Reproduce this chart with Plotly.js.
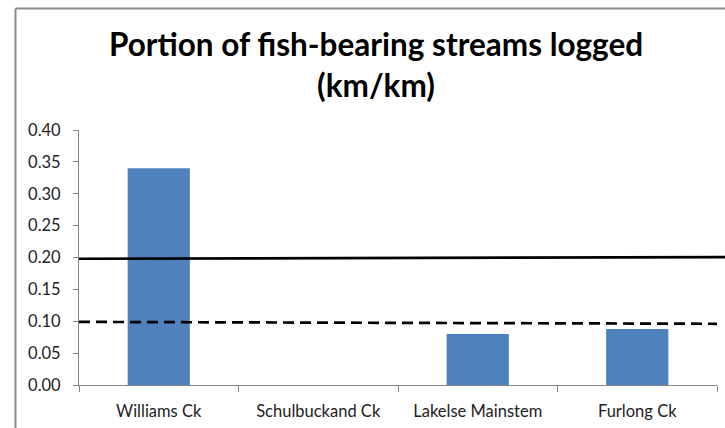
<!DOCTYPE html>
<html>
<head>
<meta charset="utf-8">
<script src="https://cdn.plot.ly/plotly-3.0.1.min.js"></script>
<style>html,body{margin:0;padding:0;background:#fff;}#chart{width:725px;height:428px;}</style>
</head>
<body>
<div id="chart"></div>
<script>
// Data
const categories = ["Williams Ck", "Schulbuckand Ck", "Lakelse Mainstem", "Furlong Ck"];
const values = [0.34, null, 0.08, 0.088];
const solidLine = [0.198, 0.2005];   // start, end values of solid reference line
const dashedLine = [0.099, 0.096];   // start, end values of dashed reference line
const yTickVals = [0, 0.05, 0.10, 0.15, 0.20, 0.25, 0.30, 0.35, 0.40];
const yTickText = ["0.00", "0.05", "0.10", "0.15", "0.20", "0.25", "0.30", "0.35", "0.40"];

const W = 725, H = 428;
const M = {l: 79, r: 8, t: 130, b: 43};
const pw = W - M.l - M.r, ph = H - M.t - M.b;
const px = x => (x - M.l) / pw;        // pixel -> paper x
const py = y => (H - M.b - y) / ph;    // pixel -> paper y

const fontFam = "Lato, 'Open Sans', sans-serif";
const axisGray = "#868686";

const trace = {
  type: "bar",
  x: categories,
  y: values,
  marker: {color: "#4F81BD"},
  hoverinfo: "x+y"
};

const layout = {
  width: W, height: H,
  margin: M,
  paper_bgcolor: "#fff",
  plot_bgcolor: "#fff",
  showlegend: false,
  bargap: 0.61,
  font: {family: fontFam, color: "#222", size: 14},
  title: {
    text: "<b>Portion of fish-bearing streams logged<br>(km/km)</b>",
    font: {family: fontFam, size: 31.5, color: "#000"},
    xref: "container", x: 376 / W, xanchor: "center",
    yref: "container", y: 1 - 56 / H, yanchor: "top"
  },
  xaxis: {
    type: "category",
    showline: true, linecolor: axisGray, linewidth: 1,
    ticks: "outside", tickson: "boundaries", ticklen: 6, tickcolor: axisGray,
    ticklabelstandoff: 11,
    showgrid: false, zeroline: false,
    tickfont: {family: fontFam, size: 16.5, color: "#222"}
  },
  yaxis: {
    range: [0, 0.40],
    tickvals: yTickVals, ticktext: yTickText,
    showline: true, linecolor: axisGray, linewidth: 1,
    ticks: "outside", ticklen: 5, tickcolor: axisGray,
    ticklabelstandoff: 9,
    showgrid: false, zeroline: false,
    tickfont: {family: fontFam, size: 16.5, color: "#222"}
  },
  shapes: [
    // chart-area border (left and top)
    {type: "line", xref: "paper", yref: "paper", x0: px(15.5), x1: px(15.5), y0: py(8.5), y1: py(H + 2),
     line: {color: "#8c8c8c", width: 2}},
    {type: "line", xref: "paper", yref: "paper", x0: px(15.5), x1: px(W + 2), y0: py(8.5), y1: py(8.5),
     line: {color: "#8c8c8c", width: 2}},
    // solid reference line
    {type: "line", xref: "paper", yref: "y", x0: 0, x1: px(W + 2), y0: solidLine[0], y1: solidLine[1],
     line: {color: "#000", width: 2.7}},
    // dashed reference line
    {type: "line", xref: "paper", yref: "y", x0: 0, x1: 1, y0: dashedLine[0], y1: dashedLine[1],
     line: {color: "#000", width: 2.7, dash: "11px,6px"}}
  ]
};

Plotly.newPlot("chart", [trace], layout, {staticPlot: true, displayModeBar: false});
</script>
</body>
</html>
